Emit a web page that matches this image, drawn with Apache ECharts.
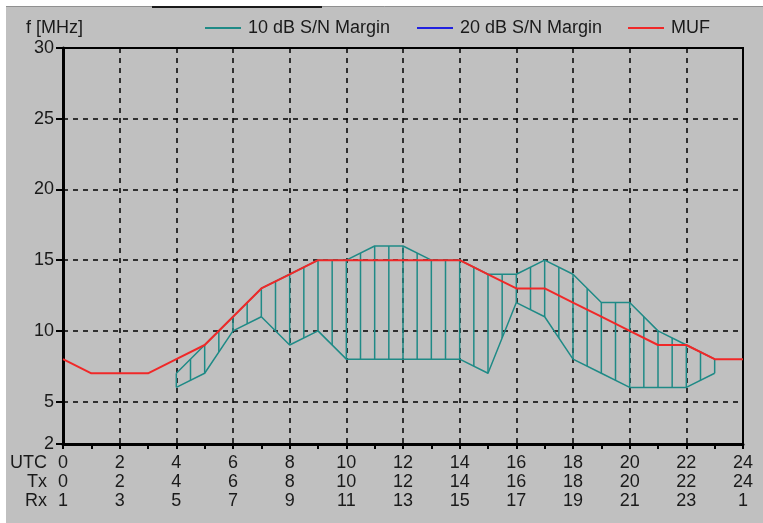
<!DOCTYPE html>
<html>
<head>
<meta charset="utf-8">
<script src="https://cdn.jsdelivr.net/npm/echarts@6/dist/echarts.min.js"></script>
<style>
  html, body { margin: 0; padding: 0; background: #c0c0c0; }
  #chart { width: 763px; height: 523px; }
</style>
</head>
<body>
<div id="chart"></div>
<script>
// ---- Data ----
const hours = [0,1,2,3,4,5,6,7,8,9,10,11,12,13,14,15,16,17,18,19,20,21,22,23,24];
const muf   = [8,7,7,7,8,9,11,13,14,15,15,15,15,15,15,14,13,13,12,11,10,9,9,8,8];

const marginHours = [4,5,6,7,8,9,10,11,12,13,14,15,16,17,18,19,20,21,22,23];
const margin10Upper = [7,9,11,13,14,15,15,16,16,15,15,14,14,15,14,12,12,10,9,8];
const margin10Lower = [6,7,10,11,9,10,8,8,8,8,8,7,12,11,8,7,6,6,6,7];
const margin20 = [];

const utcLabels = ['0','2','4','6','8','10','12','14','16','18','20','22','24'];
const txLabels  = ['0','2','4','6','8','10','12','14','16','18','20','22','24'];
const rxLabels  = ['1','3','5','7','9','11','13','15','17','19','21','23','1'];
const yTicks = [2,5,10,15,20,25,30];

// ---- Styles ----
const FONT = "'Liberation Sans', Arial, sans-serif";
const FS = 18;
const TXT = '#1a1a1a';
const TEAL = '#1f8a86';
const RED = '#f02828';
const BLUE = '#2020e0';

const chart = echarts.init(document.getElementById('chart'), null, { renderer: 'canvas' });

const pair = (xs, ys) => xs.map((x, i) => [x, ys[i]]);

const hatchData = marginHours.map((h, i) => {
  const last = i === marginHours.length - 1;
  return [h, margin10Lower[i], margin10Upper[i],
          last ? NaN : marginHours[i + 1],
          last ? NaN : margin10Lower[i + 1],
          last ? NaN : margin10Upper[i + 1]];
});

const legendCommon = {
  top: 19, padding: 0, itemWidth: 36, itemHeight: 2, icon: 'rect',
  textStyle: { fontFamily: FONT, fontSize: FS, color: TXT, padding: [0, 0, 0, 2] },
  selectedMode: false
};

const option = {
  backgroundColor: '#c0c0c0',
  animation: false,
  textStyle: { fontFamily: FONT },
  legend: [
    Object.assign({}, legendCommon, { left: 205, data: ['10 dB S/N Margin'] }),
    Object.assign({}, legendCommon, { left: 417, data: ['20 dB S/N Margin'] }),
    Object.assign({}, legendCommon, { left: 628, data: ['MUF'] })
  ],
  grid: {
    left: 63, top: 48, width: 680, height: 396,
    show: true, borderColor: '#000', borderWidth: 2, backgroundColor: 'transparent'
  },
  xAxis: {
    type: 'value', min: 0, max: 24, interval: 2,
    axisLine: { show: true, lineStyle: { color: '#000', width: 3 } },
    axisTick: { show: true, length: 5, lineStyle: { color: '#000', width: 2 } },
    minorTick: { show: true, splitNumber: 2, length: 5, lineStyle: { color: '#000', width: 2 } },
    splitLine: { show: true, lineStyle: { color: '#000', width: 1.5, type: [5, 5] } },
    axisLabel: {
      margin: 10, color: TXT, fontFamily: FONT, fontSize: FS, lineHeight: 19,
      formatter: (v) => {
        const i = Math.round(v / 2);
        return utcLabels[i] + '\n' + txLabels[i] + '\n' + rxLabels[i];
      }
    }
  },
  yAxis: {
    type: 'value', min: 2, max: 30,
    axisLine: { show: true, lineStyle: { color: '#000', width: 3 } },
    axisTick: { show: true, length: 7, customValues: yTicks, lineStyle: { color: '#000', width: 2 } },
    splitLine: { show: true, lineStyle: { color: '#000', width: 1.5, type: [5, 5] } },
    axisLabel: {
      customValues: yTicks, margin: 9, color: TXT, fontFamily: FONT, fontSize: FS,
      padding: [4, 0, 0, 0]
    }
  },
  graphic: [
    { type: 'rect', shape: { x: 0, y: 0, width: 763, height: 6 }, style: { fill: '#ffffff' }, silent: true },
    { type: 'rect', shape: { x: 0, y: 0, width: 6, height: 523 }, style: { fill: '#ffffff' }, silent: true },
    { type: 'line', shape: { x1: 6, y1: 6.5, x2: 763, y2: 6.5 }, style: { stroke: '#909090', lineWidth: 1 }, silent: true },
    { type: 'line', shape: { x1: 152, y1: 7, x2: 322, y2: 7 }, style: { stroke: '#1a1a1a', lineWidth: 2 }, silent: true },
    { type: 'text', left: 26, top: 19, style: { text: 'f [MHz]', font: FS + 'px ' + FONT, fill: TXT } },
    { type: 'text', right: 716, top: 454, style: { text: 'UTC', font: FS + 'px ' + FONT, fill: TXT, textAlign: 'right' } },
    { type: 'text', right: 716, top: 473, style: { text: 'Tx', font: FS + 'px ' + FONT, fill: TXT, textAlign: 'right' } },
    { type: 'text', right: 716, top: 492, style: { text: 'Rx', font: FS + 'px ' + FONT, fill: TXT, textAlign: 'right' } }
  ],
  series: [
    {
      name: '10 dB S/N Margin', type: 'custom', data: hatchData, z: 2,
      color: TEAL,
      renderItem: (params, api) => {
        const h = api.value(0), lo = api.value(1), up = api.value(2);
        const nh = api.value(3), nlo = api.value(4), nup = api.value(5);
        const a = api.coord([h, lo]), b = api.coord([h, up]);
        const children = [{
          type: 'line', shape: { x1: a[0], y1: a[1], x2: b[0], y2: b[1] },
          style: { stroke: TEAL, lineWidth: 1.5 }
        }];
        if (!isNaN(nh)) {
          const c = api.coord([nh, nlo]), d = api.coord([nh, nup]);
          children.push({
            type: 'line',
            shape: { x1: (a[0] + c[0]) / 2, y1: (a[1] + c[1]) / 2, x2: (b[0] + d[0]) / 2, y2: (b[1] + d[1]) / 2 },
            style: { stroke: TEAL, lineWidth: 1.5 }
          });
        }
        return { type: 'group', children };
      }
    },
    {
      name: '10 dB S/N Margin', type: 'line', data: pair(marginHours, margin10Upper),
      showSymbol: false, symbol: 'none', color: TEAL, z: 3,
      lineStyle: { color: TEAL, width: 1.5 }
    },
    {
      name: '10 dB S/N Margin', type: 'line', data: pair(marginHours, margin10Lower),
      showSymbol: false, symbol: 'none', color: TEAL, z: 3,
      lineStyle: { color: TEAL, width: 1.5 }
    },
    {
      name: '20 dB S/N Margin', type: 'line', data: margin20,
      showSymbol: false, symbol: 'none', color: BLUE,
      lineStyle: { color: BLUE, width: 1.5 }
    },
    {
      name: 'MUF', type: 'line', data: pair(hours, muf),
      showSymbol: false, symbol: 'none', color: RED, z: 4,
      lineStyle: { color: RED, width: 2 }
    }
  ]
};

chart.setOption(option);
</script>
</body>
</html>
